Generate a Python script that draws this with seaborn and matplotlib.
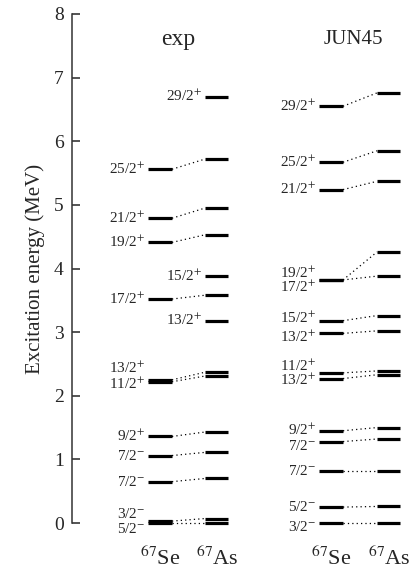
import matplotlib
matplotlib.use("Agg")
import matplotlib.pyplot as plt
import seaborn as sns

# experimental levels, 67Se with its mirror partner in 67As (same order)
exp_se_spin = ["25/2+", "21/2+", "19/2+", "17/2+", "13/2+", "11/2+",
               "9/2+", "7/2-", "7/2-", "3/2-", "5/2-"]
exp_se_energy = [5.56, 4.79, 4.41, 3.52, 2.25, 2.22, 1.36, 1.06, 0.65, 0.03, 0.0]
exp_as_energy = [5.72, 4.95, 4.53, 3.58, 2.37, 2.31, 1.43, 1.11, 0.70, 0.07, 0.0]

# 67As levels with no 67Se partner
exp_as_extra_spin = ["29/2+", "15/2+", "13/2+"]
exp_as_extra_energy = [6.70, 3.88, 3.18]

# JUN45 shell model
jun_se_spin = ["29/2+", "25/2+", "21/2+", "19/2+", "17/2+", "15/2+", "13/2+",
               "11/2+", "13/2+", "9/2+", "7/2-", "7/2-", "5/2-", "3/2-"]
jun_se_energy = [6.55, 5.67, 5.24, 3.82, 3.82, 3.18, 2.98,
                 2.36, 2.27, 1.45, 1.28, 0.82, 0.25, 0.0]
jun_as_energy = [6.76, 5.85, 5.37, 4.26, 3.88, 3.26, 3.02,
                 2.39, 2.33, 1.50, 1.32, 0.82, 0.26, 0.0]

# label nudges (points) for crowded levels
exp_se_nudge = {4: 8, 5: -2, 9: 5, 10: -4}
jun_se_nudge = {3: 5, 4: -5, 5: 2, 6: -3, 7: 5, 8: -1, 10: -3, 13: -3}

sns.set_theme(style="ticks")
plt.rcParams["font.family"] = ["Liberation Serif", "DejaVu Serif"]
plt.rcParams["mathtext.fontset"] = "stix"

fig = plt.figure(figsize=(4.19, 5.76), dpi=100)
ax = fig.add_axes([72 / 419, 53 / 576, 347 / 419, 509 / 576])
ax.set_xlim(72, 419)
ax.set_ylim(0, 8)

# column x-extents (figure pixels)
cols = {"exp_se": (148, 172), "exp_as": (205, 228),
        "jun_se": (319, 343), "jun_as": (377, 400)}
lw = 2.3


def spin_label(s):
    return s[:-1] + "$^{" + s[-1] + "}$"


def draw_levels(energies, col):
    x0, x1 = cols[col]
    ax.hlines(energies, x0, x1, color="black", lw=lw, clip_on=False)


def draw_links(e_left, e_right, left, right):
    for a, b in zip(e_left, e_right):
        ax.plot([cols[left][1], cols[right][0]], [a, b], color="black",
                lw=0.9, ls=(0, (1, 2.5)), clip_on=False)


def draw_labels(energies, spins, col, nudge):
    x0 = cols[col][0]
    for i, (e, s) in enumerate(zip(energies, spins)):
        ax.annotate(spin_label(s), (x0, e), xytext=(-2, nudge.get(i, 0)),
                    textcoords="offset points", ha="right", va="center",
                    fontsize=11, annotation_clip=False)


draw_levels(exp_se_energy, "exp_se")
draw_levels(exp_as_energy + exp_as_extra_energy, "exp_as")
draw_links(exp_se_energy, exp_as_energy, "exp_se", "exp_as")
draw_labels(exp_se_energy, exp_se_spin, "exp_se", exp_se_nudge)
draw_labels(exp_as_extra_energy, exp_as_extra_spin, "exp_as", {})

draw_levels(jun_se_energy, "jun_se")
draw_levels(jun_as_energy, "jun_as")
draw_links(jun_se_energy, jun_as_energy, "jun_se", "jun_as")
draw_labels(jun_se_energy, jun_se_spin, "jun_se", jun_se_nudge)

ax.text(178, 7.6, "exp", ha="center", va="center", fontsize=17)
ax.text(353, 7.6, "JUN45", ha="center", va="center", fontsize=15)
for x, nuc in [(160, "Se"), (217, "As"), (331, "Se"), (389, "As")]:
    ax.text(x, -0.66, "$^{67}$" + nuc, ha="center", va="baseline",
            fontsize=16, clip_on=False)

ax.set_ylabel("Excitation energy (MeV)", fontsize=15, labelpad=6)
ax.set_yticks(range(0, 9))
ax.tick_params(axis="y", direction="in", length=6, width=1.1, labelsize=14, pad=6)
ax.set_xticks([])
for side in ["top", "right", "bottom"]:
    ax.spines[side].set_visible(False)
ax.spines["left"].set_linewidth(1.1)
ax.spines["left"].set_color("#333333")
ax.set_facecolor("none")

fig.savefig("out.png", dpi=100)
